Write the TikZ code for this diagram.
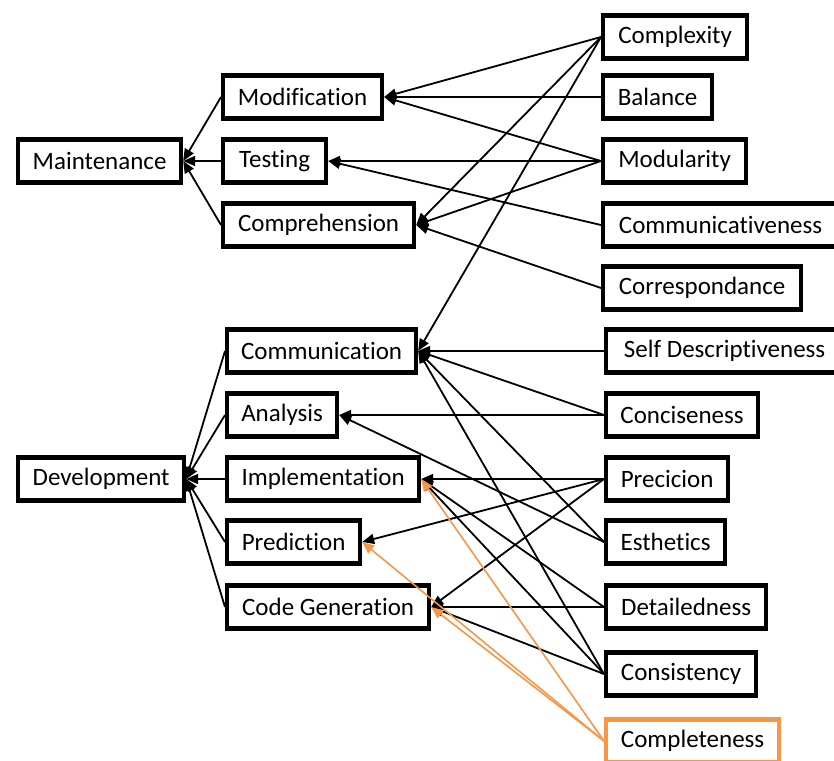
\documentclass[tikz,border=0pt]{standalone}
\usepackage{fontspec}
\setmainfont{Carlito}[Ligatures=NoCommon]
\usetikzlibrary{arrows.meta}
\definecolor{accent}{HTML}{F79646}
\begin{document}
\begin{tikzpicture}[x=1pt,y=-1pt,
  box/.style={draw, line width=4.2pt, minimum height=43pt, inner xsep=0pt, inner ysep=0pt,
    anchor=west, font=\fontsize{25}{30}\selectfont},
  link/.style={line width=1.8pt, -{Triangle[length=12pt,width=10pt]}},
  hilink/.style={draw=accent, line width=1.6pt, -{Triangle[length=12pt,width=10pt]}}]
\useasboundingbox (0,0) rectangle (834,760);

% goals
\node[box, minimum width=163pt] (maintenance) at (16,161) {Maintenance};
\node[box, minimum width=166pt] (development) at (16,479) {Development};

% activities
\node[box, minimum width=159pt] (modification) at (221,97) {Modification};
\node[box, minimum width=103pt] (testing) at (221,161) {Testing};
\node[box, minimum width=191pt] (comprehension) at (221,225) {Comprehension};
\node[box, minimum width=189pt] (communication) at (225,351) {Communication};
\node[box, minimum width=110pt] (analysis) at (225,415) {Analysis};
\node[box, minimum width=192pt] (implementation) at (225,479) {Implementation};
\node[box, minimum width=133pt] (prediction) at (225,542) {Prediction};
\node[box, minimum width=202pt] (codegen) at (225,607) {Code Generation};

% properties
\node[box, minimum width=144pt] (complexity) at (601,37) {Complexity};
\node[box, minimum width=109pt] (balance) at (601,97) {Balance};
\node[box, minimum width=143pt] (modularity) at (601,161) {Modularity};
\node[box, minimum width=235pt] (communicativeness) at (601,225) {Communicativeness};
\node[box, minimum width=198pt] (correspondance) at (601,288) {Correspondance};
\node[box, minimum width=237pt] (selfdesc) at (604,351) {Self Descriptiveness};
\node[box, minimum width=152pt] (conciseness) at (604,415) {Conciseness};
\node[box, minimum width=122pt] (precicion) at (604,479) {Precicion};
\node[box, minimum width=119pt] (esthetics) at (604,542) {Esthetics};
\node[box, minimum width=160pt] (detailedness) at (604,607) {Detailedness};
\node[box, minimum width=150pt] (consistency) at (604,674) {Consistency};
\node[box, minimum width=173pt, draw=accent] (completeness) at (604,741) {Completeness};

% activities feeding goals
\foreach \a in {modification,testing,comprehension}
  \draw[link] (\a.west) -- (maintenance.east);
\foreach \a in {communication,analysis,implementation,prediction,codegen}
  \draw[link] (\a.west) -- (development.east);

% properties feeding activities
\foreach \p/\a in {complexity/modification, balance/modification, modularity/modification,
    modularity/testing, communicativeness/testing,
    complexity/comprehension, modularity/comprehension, correspondance/comprehension,
    complexity/communication, selfdesc/communication, conciseness/communication,
    esthetics/communication, consistency/communication,
    conciseness/analysis, esthetics/analysis,
    precicion/implementation, detailedness/implementation, consistency/implementation,
    precicion/prediction,
    precicion/codegen, detailedness/codegen, consistency/codegen}
  \draw[link] (\p.west) -- (\a.east);

\foreach \a in {implementation,prediction,codegen}
  \draw[hilink] (completeness.west) -- (\a.east);
\end{tikzpicture}
\end{document}
